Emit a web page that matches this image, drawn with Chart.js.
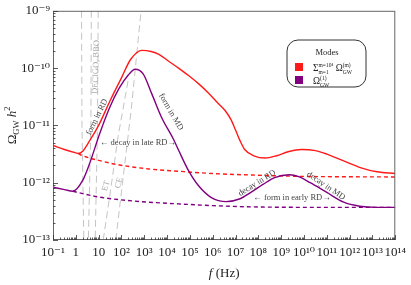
<!DOCTYPE html>
<html><head><meta charset="utf-8">
<script src="https://cdn.jsdelivr.net/npm/chart.js@4"></script>
<style>html,body{margin:0;padding:0;background:#fff}</style>
</head><body>
<canvas id="c" width="411" height="285"></canvas>
<script>
// ---- data (log10 f [Hz], log10 Omega h^2) ----
const redSolidLogF = [-1,-0.5,0,0.1,0.3,0.6,1.0,1.5,2.0,2.4,2.9,3.3,3.64,4.07,4.5,4.94,5.4,5.8,6.2,6.54,6.8,7.0,7.2,7.4,7.8,8.3,8.8,9.3,9.9,10.5,11.0,11.74,12.5,13.2,14];
const redSolidLogOmega = [-11.35,-11.42,-11.48,-11.49,-11.45,-11.27,-11.0,-10.57,-10.17,-9.85,-9.69,-9.71,-9.76,-9.88,-10.0,-10.13,-10.28,-10.43,-10.6,-10.74,-10.9,-11.08,-11.27,-11.42,-11.53,-11.57,-11.53,-11.46,-11.42,-11.44,-11.5,-11.62,-11.74,-11.81,-11.84];
const redDashedLogF = [0.1,0.3,1,1.77,3.2,4.5,6,8,10,14];
const redDashedLogOmega = [-11.49,-11.53,-11.61,-11.68,-11.76,-11.80,-11.84,-11.87,-11.89,-11.90];
const purpleSolidLogF = [-1,-0.5,-0.13,0.3,0.6,1.04,1.47,1.9,2.3,2.6,2.95,3.33,3.77,4.29,4.5,4.94,5.37,5.94,6.59,7.2,7.67,8.2,8.71,9.36,9.8,10.27,11.0,11.74,12.44,13.17,14];
const purpleSolidLogOmega = [-12.08,-12.12,-12.15,-11.96,-11.67,-11.15,-10.7,-10.35,-10.12,-10.02,-10.1,-10.45,-10.87,-11.25,-11.43,-11.79,-12.05,-12.26,-12.33,-12.28,-12.17,-12.03,-11.91,-11.86,-11.9,-12.0,-12.17,-12.34,-12.41,-12.43,-12.43];
const purpleDashedLogF = [-0.13,0.3,1,2,3.2,4.5,6,7.5,10,14];
const purpleDashedLogOmega = [-12.15,-12.19,-12.25,-12.30,-12.34,-12.37,-12.40,-12.42,-12.43,-12.43];
// detector sensitivity curves (gray dashed)
const decigoLogF = [0.25,0.27,0.35];
const decigoLogOmega = [-9,-11,-13];
const bboLogF = [0.68,0.66,0.55];
const bboLogOmega = [-9,-11,-13];
const bbo2LogF = [0.98,0.95,0.85];
const bbo2LogOmega = [-9,-11,-13];
const etLogF = [1.2,1.5,1.85,2.3];
const etLogOmega = [-13,-12.2,-11.2,-10.2];
const ceLogF = [1.75,2.42,2.86];
const ceLogOmega = [-13,-10.75,-9];

const xTickExponents = [-1,0,1,2,3,4,5,6,7,8,9,10,11,12,13,14];
const xTickLabels = ['10⁻¹','1','10','10²','10³','10⁴','10⁵','10⁶','10⁷','10⁸','10⁹','10¹⁰','10¹¹','10¹²','10¹³','10¹⁴'];
const yTickExponents = [-13,-12,-11,-10,-9];
const yTickLabels = ['10⁻¹³','10⁻¹²','10⁻¹¹','10⁻¹⁰','10⁻⁹'];

const legendTitle = 'Modes';
const legendColors = ['#ff1a1a','#800080'];

function pts(lf, lo){ return lf.map((f,i)=>({x:Math.pow(10,f), y:Math.pow(10,lo[i])})); }

const RED='#ff1a1a', PURPLE='#800080', GRAY='#c4c4c4';
const serif = "'Liberation Serif', 'DejaVu Serif', serif";

function makeTicks(e0,e1){
  const arr=[];
  for(let e=e0;e<=e1;e++){
    for(let k=1;k<=9;k++){
      if(e===e1 && k>1) break;
      arr.push({value:k*Math.pow(10,e), major:k===1});
    }
  }
  return arr;
}
function labelFor(value, exps, labels){
  const l = Math.log10(value);
  const r = Math.round(l);
  if(Math.abs(l-r)>1e-6) return '';
  const i = exps.indexOf(r);
  return i>=0 ? labels[i] : '';
}

// rich text helper: segments {t,s,dy,it} or {sup,sub,s}
function richWidth(ctx, segs){
  let w=0;
  for(const g of segs){
    if(g.sup!==undefined){
      ctx.font = `${g.s}px ${serif}`;
      w += Math.max(ctx.measureText(g.sup).width, ctx.measureText(g.sub).width);
    } else {
      ctx.font = `${g.it?'italic ':''}${g.s}px ${serif}`;
      w += ctx.measureText(g.t).width;
    }
  }
  return w;
}
function drawRich(ctx, segs, x, y, align){
  const w = richWidth(ctx, segs);
  let cx = align==='center' ? x - w/2 : x;
  ctx.textBaseline='alphabetic';
  ctx.textAlign='left';
  for(const g of segs){
    if(g.sup!==undefined){
      ctx.font = `${g.s}px ${serif}`;
      ctx.fillText(g.sup, cx, y - (g.up||5));
      ctx.fillText(g.sub, cx, y + (g.down||2.5));
      cx += Math.max(ctx.measureText(g.sup).width, ctx.measureText(g.sub).width);
    } else {
      ctx.font = `${g.it?'italic ':''}${g.s}px ${serif}`;
      ctx.fillText(g.t, cx, y + (g.dy||0));
      cx += ctx.measureText(g.t).width;
    }
  }
}
function rotText(ctx, text, x, y, ang, size, color){
  ctx.save();
  ctx.translate(x,y);
  ctx.rotate(ang*Math.PI/180);
  ctx.font = `${size}px ${serif}`;
  ctx.fillStyle = color;
  ctx.textAlign='center';
  ctx.textBaseline='middle';
  ctx.fillText(text,0,0);
  ctx.restore();
}

const decorPlugin = {
  id:'decor',
  afterDatasetsDraw(chart){
    const {ctx, chartArea:a, scales:{x,y}} = chart;
    ctx.save();
    ctx.strokeStyle='#666';
    ctx.lineWidth=1;
    ctx.strokeRect(a.left+0.5, a.top+0.5, a.right-a.left-1, a.bottom-a.top-1);
    ctx.strokeStyle='#333';
    ctx.lineWidth=0.8;
    ctx.beginPath();
    for(const t of x.ticks){
      const px = Math.round(x.getPixelForValue(t.value))+0.5;
      const len = t.major?5:2.5;
      ctx.moveTo(px, a.bottom); ctx.lineTo(px, a.bottom-len);
    }
    for(const t of y.ticks){
      const py = Math.round(y.getPixelForValue(t.value))+0.5;
      const len = t.major?5:2.5;
      ctx.moveTo(a.left, py); ctx.lineTo(a.left+len, py);
    }
    ctx.stroke();
    ctx.restore();
  },
  afterDraw(chart){
    const {ctx, chartArea:a} = chart;
    ctx.save();
    ctx.fillStyle='#222';
    // axis titles
    drawRich(ctx, [{t:'f',s:13,it:true},{t:' (Hz)',s:13}], (a.left+a.right)/2, 277, 'center');
    ctx.save();
    ctx.translate(16,(a.top+a.bottom)/2);
    ctx.rotate(-Math.PI/2);
    drawRich(ctx, [{t:'Ω',s:13},{t:'GW',s:8.5,dy:3},{t:' h',s:13,it:true},{t:'2',s:8.5,dy:-6}], 0, 0, 'center');
    ctx.restore();
    // annotations
    const ann='#444';
    rotText(ctx,'form in RD',97,117,-64,8.5,ann);
    rotText(ctx,'form in MD',171,112,60,8.5,ann);
    rotText(ctx,'decay in RD',257,183,-32,8.5,ann);
    rotText(ctx,'decay in MD',326,186,34,8.5,ann);
    rotText(ctx,'← decay in late RD→',138,143,0,8.5,ann);
    rotText(ctx,'← form in early RD→',292,198,0,8.5,ann);
    rotText(ctx,'DECIGO, BBO',96,67,-88,8.5,'#aaa');
    rotText(ctx,'ET',106,186,-75,8.5,'#aaa');
    rotText(ctx,'CE',119,183,-75,8.5,'#aaa');
    // legend
    const bx=287, by=40, bw=79, bh=47, r=11;
    ctx.beginPath();
    ctx.moveTo(bx+r,by); ctx.lineTo(bx+bw-r,by); ctx.arcTo(bx+bw,by,bx+bw,by+r,r);
    ctx.lineTo(bx+bw,by+bh-r); ctx.arcTo(bx+bw,by+bh,bx+bw-r,by+bh,r);
    ctx.lineTo(bx+r,by+bh); ctx.arcTo(bx,by+bh,bx,by+bh-r,r);
    ctx.lineTo(bx,by+r); ctx.arcTo(bx,by,bx+r,by,r); ctx.closePath();
    ctx.fillStyle='#fff'; ctx.fill();
    ctx.strokeStyle='#333'; ctx.lineWidth=1; ctx.stroke();
    ctx.fillStyle='#222';
    drawRich(ctx,[{t:legendTitle,s:8.5}],327,55,'center');
    ctx.fillStyle=legendColors[0]; ctx.fillRect(295,63,8,8);
    ctx.fillStyle=legendColors[1]; ctx.fillRect(295,76,8,8);
    ctx.fillStyle='#222';
    drawRich(ctx,[{t:'Σ',s:9.5},{sup:'m=10⁴',sub:'m=1',s:5.5,up:4,down:2.5},{t:' Ω',s:9.5},{sup:'(m)',sub:'GW',s:5.5,up:4,down:2.5}],313,71,'left');
    drawRich(ctx,[{t:'Ω',s:9.5},{sup:'(1)',sub:'GW',s:5.5,up:4,down:2.5}],313,84,'left');
    ctx.restore();
  }
};

const solid = (data,color)=>({data, borderColor:color, borderWidth:1.4, pointRadius:0, fill:false, cubicInterpolationMode:'monotone'});
const dashed = (data,color)=>({data, borderColor:color, borderWidth:1.4, borderDash:[4,3], pointRadius:0, fill:false, cubicInterpolationMode:'monotone'});
const gray = (data)=>({data, borderColor:GRAY, borderWidth:1, borderDash:[7,4], pointRadius:0, fill:false, tension:0});

new Chart(document.getElementById('c'), {
  type:'line',
  data:{datasets:[
    solid(pts(redSolidLogF,redSolidLogOmega),RED),
    solid(pts(purpleSolidLogF,purpleSolidLogOmega),PURPLE),
    dashed(pts(redDashedLogF,redDashedLogOmega),RED),
    dashed(pts(purpleDashedLogF,purpleDashedLogOmega),PURPLE),
    gray(pts(decigoLogF,decigoLogOmega)),
    gray(pts(bboLogF,bboLogOmega)),
    gray(pts(bbo2LogF,bbo2LogOmega)),
    gray(pts(etLogF,etLogOmega)),
    gray(pts(ceLogF,ceLogOmega))
  ]},
  options:{
    responsive:false, animation:false, devicePixelRatio:1,
    layout:{padding:{left:0,right:12,top:9,bottom:0}},
    plugins:{legend:{display:false}, tooltip:{enabled:false}},
    scales:{
      x:{type:'logarithmic', min:0.1, max:1e14,
        afterBuildTicks:s=>{s.ticks=makeTicks(-1,14);},
        afterFit:s=>{s.height=45;},
        grid:{display:false, drawTicks:false, tickLength:0}, border:{display:false},
        ticks:{autoSkip:false, maxRotation:0, minRotation:0, padding:5, color:'#222',
          font:{family:serif, size:13},
          callback:(v)=>labelFor(v,xTickExponents,xTickLabels)}},
      y:{type:'logarithmic', min:1e-13, max:1e-9,
        afterBuildTicks:s=>{s.ticks=makeTicks(-13,-9);},
        afterFit:s=>{s.width=53;},
        grid:{display:false, drawTicks:false, tickLength:0}, border:{display:false},
        ticks:{autoSkip:false, padding:3, color:'#222',
          font:{family:serif, size:13},
          callback:(v)=>labelFor(v,yTickExponents,yTickLabels)}}
    }
  },
  plugins:[decorPlugin]
});
</script>
</body></html>
